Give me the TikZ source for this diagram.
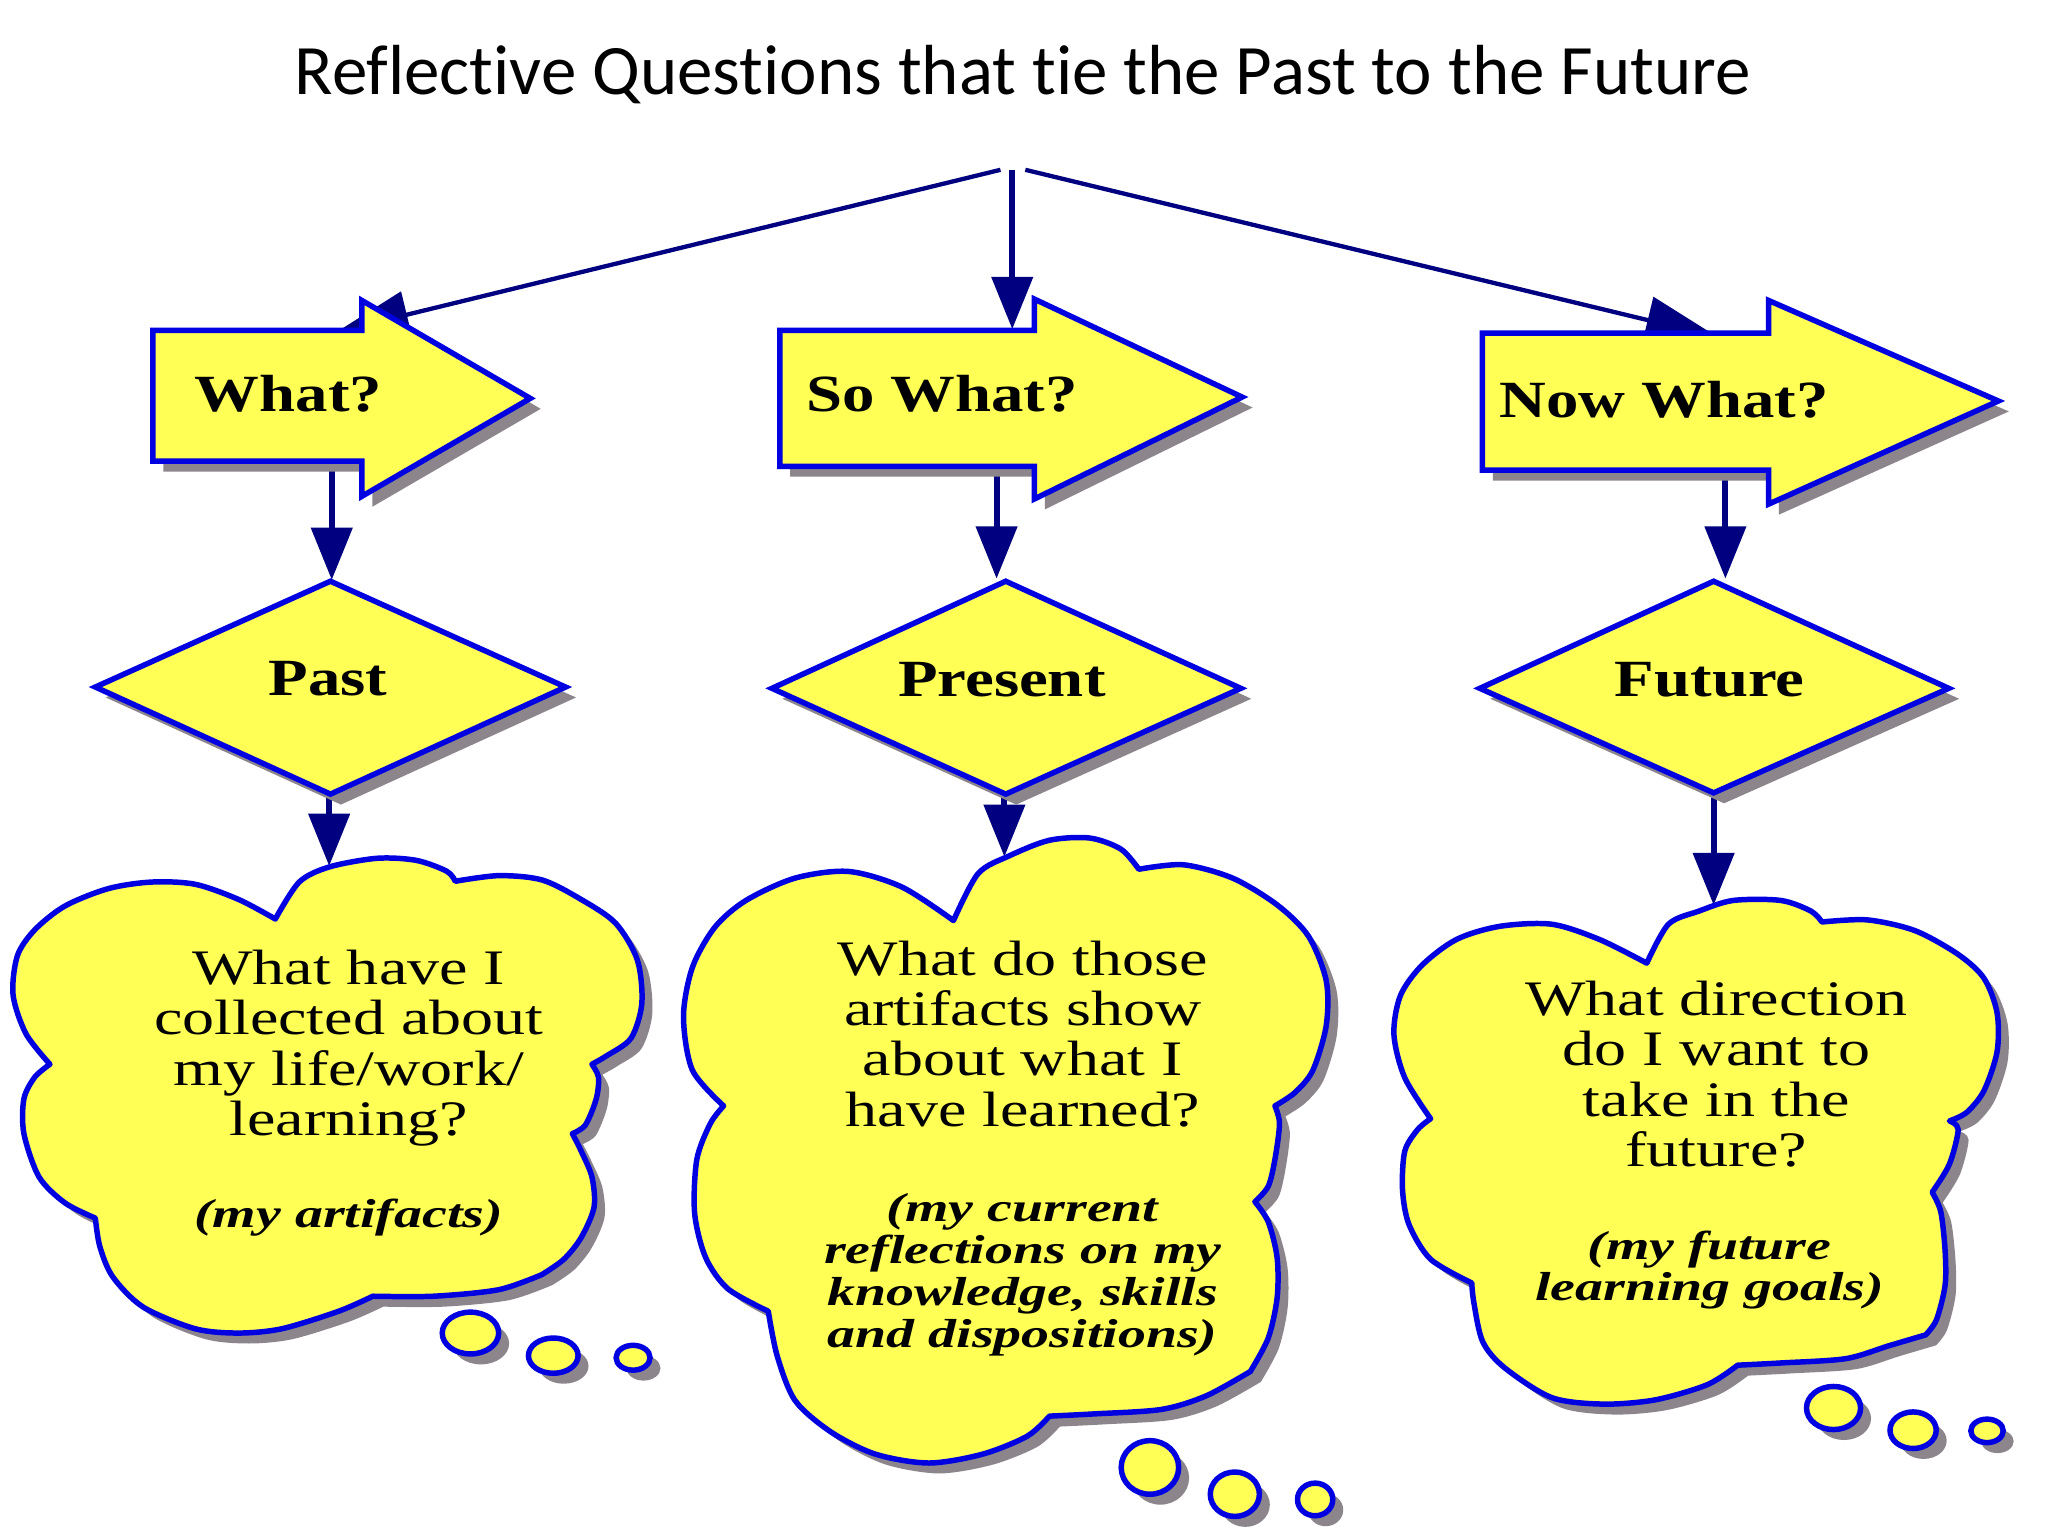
\documentclass[tikz,border=0pt]{standalone}
\usepackage{fontspec}
\usetikzlibrary{arrows.meta}
\newfontfamily\titlefont[Ligatures={NoCommon}]{Carlito}
\newfontfamily\labelfont[FakeStretch=1.24]{Liberation Serif}
\newfontfamily\cloudfont[FakeStretch=1.29]{Liberation Serif}
\newfontfamily\notefont[FakeStretch=1.38]{Liberation Serif}
\definecolor{clipyellow}{RGB}{255,255,85}
\definecolor{clipblue}{RGB}{0,0,225}
\definecolor{clipnavy}{RGB}{0,0,128}
\definecolor{clipshade}{RGB}{140,134,140}
\tikzset{
  shapebox/.style={fill=clipyellow, draw=clipblue, line width=4.2pt, line join=miter},
  shadebox/.style={fill=clipshade},
  vconn/.style={draw=clipnavy, line width=4.6pt, -{Triangle[width=31pt,length=40pt]}},
  dconn/.style={draw=clipnavy, line width=3.3pt, -{Triangle[width=36pt,length=55pt]}},
  lab/.style={inner sep=0pt, font=\labelfont\bfseries\fontsize{40}{44}\selectfont},
  qtext/.style={inner sep=0pt, font=\cloudfont\fontsize{38}{38.6}\selectfont},
  ntext/.style={inner sep=0pt, font=\notefont\bfseries\itshape\fontsize{31}{32}\selectfont},
}
\newcommand\whatArrow{(117,253) -- (277,253) -- (277,230) -- (406,305) -- (277,380) -- (277,353) -- (117,353) -- cycle}
\newcommand\sowhatArrow{(597,253) -- (792,253) -- (792,229) -- (951,304) -- (792,382) -- (792,357) -- (597,357) -- cycle}
\newcommand\nowwhatArrow{(1135,255) -- (1354,255) -- (1354,230) -- (1530,307) -- (1354,386) -- (1354,360) -- (1135,360) -- cycle}
\newcommand\pastDiamond{(73,526) -- (253,445) -- (433,526) -- (253,608) -- cycle}
\newcommand\presentDiamond{(591,527) -- (770,445) -- (950,527) -- (770,608) -- cycle}
\newcommand\futureDiamond{(1133,527) -- (1312,445) -- (1492,527) -- (1312,607) -- cycle}
\newcommand\pastCloud{(210.8,703.6)
 -- plot[smooth] coordinates {(210.8,703.6) (229.1,675.3) (252.3,663.7) (288.8,657.1) (318.7,658.7) (342,667) (348.6,674.7)}
 -- plot[smooth] coordinates {(348.6,674.7) (381.8,670.4) (415,673.7) (444.9,688.6) (471.4,706.9) (488,735.1) (491.4,768.3) (483.1,794.9) (464.8,808.1) (453.2,814.8)}
 -- plot[smooth] coordinates {(453.2,814.8) (458.2,824.7) (456.5,841.3) (448.2,861.3) (438.2,867.9)}
 -- plot[smooth] coordinates {(438.2,867.9) (444.9,881.2) (453.2,901.1) (454.8,924.3) (444.9,947.6) (431.6,964.2) (415,975.8)}
 -- plot[smooth] coordinates {(415,975.8) (381.8,987.4) (332,992.4) (285.5,992.4)}
 -- plot[smooth] coordinates {(285.5,992.4) (259,1004) (215.8,1017.3) (182.6,1020.6) (149.4,1017.3) (109.6,1000.7) (86.3,977.5) (76.4,954.2) (73,932.6)}
 -- plot[smooth] coordinates {(73,932.6) (49.8,921) (29.9,901.1) (18.3,867.9) (18.3,841.3) (26.6,824.7) (38.2,814.8)}
 -- plot[smooth] coordinates {(38.2,814.8) (19.9,791.5) (10,761.7) (13.3,731.8) (26.6,711.9) (49.8,693.6) (83,680.3) (116.2,675.3) (149.4,677) (182.6,688.6) (210.8,703.6)}
 -- cycle}
\newcommand\presentCloud{(730,704.8)
 -- plot[smooth] coordinates {(730,704.8) (748.8,668.9) (772.8,655.2) (803.5,643.3) (834.3,641.6) (858.2,650.1) (871.9,665.5)}
 -- plot[smooth] coordinates {(871.9,665.5) (906.1,662.1) (943.7,672.3) (977.8,692.8) (1001.8,716.8) (1015.4,750.9) (1015.4,785.1) (1005.2,819.3) (991.5,836.4) (976.1,846.7)}
 -- plot[smooth] coordinates {(976.1,846.7) (979.6,860.3) (976.1,887.7) (971,908.2) (960.8,920.1)}
 -- plot[smooth] coordinates {(960.8,920.1) (971,935.5) (977.8,962.9) (977.8,993.6) (971,1024.4) (957.3,1050)}
 -- plot[smooth] coordinates {(957.3,1050) (923.2,1068.8) (889,1079.1) (837.7,1082.5) (803.5,1084.2)}
 -- plot[smooth] coordinates {(803.5,1084.2) (786.4,1099.6) (752.3,1113.3) (711.2,1120.1) (670.2,1113.3) (636,1096.2) (608.7,1072.2) (595,1038) (588.2,1003.9)}
 -- plot[smooth] coordinates {(588.2,1003.9) (557.4,986.8) (540.3,962.9) (531.8,928.7) (533.5,887.7) (543.8,860.3) (554,846.7)}
 -- plot[smooth] coordinates {(554,846.7) (530.1,819.3) (523.3,778.3) (530.1,740.7) (547.2,710) (571.1,689.4) (608.7,672.3) (649.7,667.2) (690.7,679.2) (730,704.8)}
 -- cycle}
\newcommand\futureCloud{(1260.8,737.4)
 -- plot[smooth] coordinates {(1260.8,737.4) (1277.4,707.6) (1300.6,697.6) (1327,689.4) (1363.5,689.4) (1386.6,697.6) (1394.9,705.9)}
 -- plot[smooth] coordinates {(1394.9,705.9) (1429.7,704.3) (1466.1,712.5) (1499.2,730.7) (1519,749) (1529,775.4) (1529,805.2) (1519,835) (1505.8,851.6) (1492.5,858.2)}
 -- plot[smooth] coordinates {(1492.5,858.2) (1499.2,864.8) (1492.5,891.3) (1479.3,912.8)}
 -- plot[smooth] coordinates {(1479.3,912.8) (1485.9,927.7) (1489.2,957.5) (1489.2,984) (1482.6,1010.4) (1474.3,1022)}
 -- plot[smooth] coordinates {(1474.3,1022) (1446.2,1030.3) (1413.1,1040.2) (1363.5,1043.5) (1330.4,1045.2)}
 -- plot[smooth] coordinates {(1330.4,1045.2) (1307.2,1060.1) (1267.5,1071.7) (1227.7,1075) (1188,1070) (1151.6,1046.9) (1135.1,1027) (1128.4,997.2) (1126.8,982.3)}
 -- plot[smooth] coordinates {(1126.8,982.3) (1095.3,964.1) (1078.8,937.6) (1073.8,911.1) (1075.5,881.4) (1085.4,864.8) (1095.3,856.5)}
 -- plot[smooth] coordinates {(1095.3,856.5) (1075.5,825.1) (1067.2,792) (1072.2,762.2) (1088.7,739) (1115.2,719.2) (1148.3,709.2) (1188,707.6) (1224.4,719.2) (1260.8,737.4)}
 -- cycle}
\newcommand\bubbles{
 (360.2,1020.6) ellipse [x radius=21.6, y radius=16]
 (423.6,1037.9) ellipse [x radius=19, y radius=13.5]
 (484.7,1039.5) ellipse [x radius=13, y radius=9.5]
 (880.4,1123.5) ellipse [x radius=22, y radius=20.5]
 (945.4,1144) ellipse [x radius=18.8, y radius=17]
 (1006.9,1148) ellipse [x radius=13.5, y radius=12.5]
 (1403.8,1078) ellipse [x radius=20.7, y radius=16.5]
 (1464.7,1095) ellipse [x radius=17.7, y radius=14]
 (1521.3,1095.5) ellipse [x radius=12.4, y radius=9]}
\begin{document}
\begin{tikzpicture}[x=1pt, y=-1pt]
\fill[white] (0,0) rectangle (1568,1176);
\useasboundingbox (0,0) rectangle (1568,1176);
% title
\node[anchor=base, inner sep=0pt, font=\titlefont\fontsize{54.3}{60}\selectfont] (title) at (783,72.7) {Reflective Questions that tie the Past to the Future};
% connector end points
\coordinate (topL) at (766,130);
\coordinate (topC) at (775,130);
\coordinate (topR) at (785,130);
\coordinate (whatIn) at (258,254);
\coordinate (sowhatIn) at (775,252);
\coordinate (nowwhatIn) at (1315,258);
\coordinate (whatOut) at (254,353);
\coordinate (pastIn) at (254,444);
\coordinate (sowhatOut) at (763,357);
\coordinate (presentIn) at (763,443);
\coordinate (nowwhatOut) at (1321,360);
\coordinate (futureIn) at (1321,443);
\coordinate (pastOut) at (252,608);
\coordinate (pastCloudIn) at (252,663);
\coordinate (presentOut) at (769,608);
\coordinate (presentCloudIn) at (769,656);
\coordinate (futureOut) at (1312,607);
\coordinate (futureCloudIn) at (1312,693);
% connectors
\draw[dconn] (topL) -- (whatIn);
\draw[vconn] (topC) -- (sowhatIn);
\draw[dconn] (topR) -- (nowwhatIn);
\draw[vconn] (whatOut) -- (pastIn);
\draw[vconn] (sowhatOut) -- (presentIn);
\draw[vconn] (nowwhatOut) -- (futureIn);
\draw[vconn] (pastOut) -- (pastCloudIn);
\draw[vconn] (presentOut) -- (presentCloudIn);
\draw[vconn] (futureOut) -- (futureCloudIn);
% shadows
\begin{scope}[shift={(8,8)}]
\fill[shadebox] \whatArrow;
\fill[shadebox] \sowhatArrow;
\fill[shadebox] \nowwhatArrow;
\fill[shadebox] \pastDiamond;
\fill[shadebox] \presentDiamond;
\fill[shadebox] \futureDiamond;
\fill[shadebox] \pastCloud;
\fill[shadebox] \presentCloud;
\fill[shadebox] \futureCloud;
\fill[shadebox] \bubbles;
\end{scope}
% shapes
\path[shapebox] \whatArrow;
\path[shapebox] \sowhatArrow;
\path[shapebox] \nowwhatArrow;
\path[shapebox] \pastDiamond;
\path[shapebox] \presentDiamond;
\path[shapebox] \futureDiamond;
\path[shapebox, line join=round] \pastCloud;
\path[shapebox, line join=round] \presentCloud;
\path[shapebox, line join=round] \futureCloud;
\path[shapebox] \bubbles;
% labels
\node[lab, anchor=base west] (what) at (149,315) {What?};
\node[lab, anchor=base west] (sowhat) at (617,315) {So What?};
\node[lab, anchor=base west] (nowwhat) at (1148,319.5) {Now What?};
\node[lab, anchor=base] (past) at (251,532.7) {Past};
\node[lab, anchor=base] (present) at (767,533) {Present};
\node[lab, anchor=base] (future) at (1309,533) {Future};
% cloud texts
\node[qtext, anchor=base] (pastQ) at (267,753.5) {\begin{tabular}[t]{@{}c@{}}What have I\\collected about\\my life/work/\\learning?\end{tabular}};
\node[ntext, anchor=base] (pastN) at (267,940) {(my artifacts)};
\node[qtext, anchor=base] (presentQ) at (783,746.5) {\begin{tabular}[t]{@{}c@{}}What do those\\artifacts show\\about what I\\have learned?\end{tabular}};
\node[ntext, anchor=base] (presentN) at (783,935.4) {\begin{tabular}[t]{@{}c@{}}(my current\\reflections on my\\knowledge, skills\\and dispositions)\end{tabular}};
\node[qtext, anchor=base] (futureQ) at (1314,777.5) {\begin{tabular}[t]{@{}c@{}}What direction\\do I want to\\take in the\\future?\end{tabular}};
\node[ntext, anchor=base] (futureN) at (1309,964) {\begin{tabular}[t]{@{}c@{}}(my future\\learning goals)\end{tabular}};
\end{tikzpicture}
\end{document}
